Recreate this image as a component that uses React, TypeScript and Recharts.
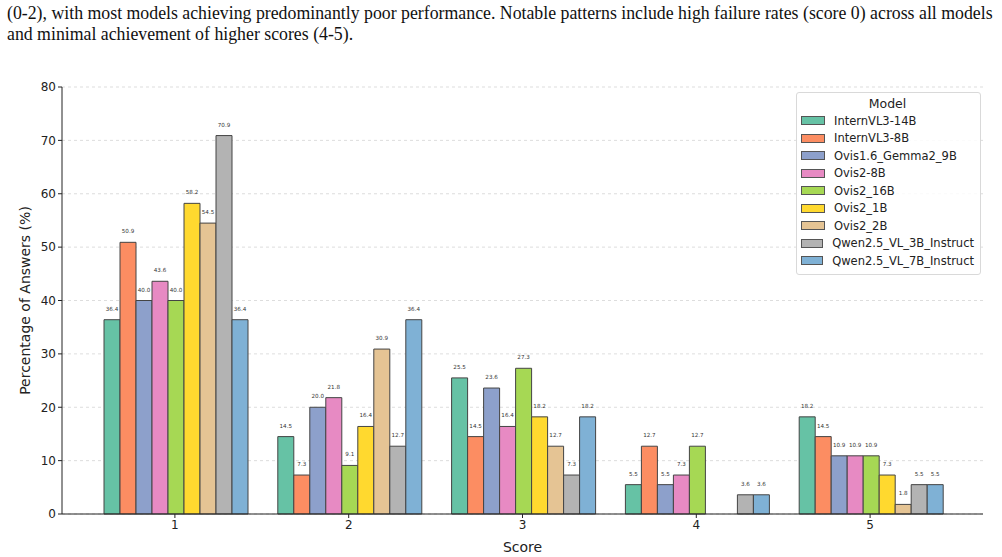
import React from "react";
import {
  BarChart,
  Bar,
  XAxis,
  YAxis,
  CartesianGrid,
  LabelList,
  Label,
} from "recharts";

const scores = ["1", "2", "3", "4", "5"];

const models = [
  "InternVL3-14B",
  "InternVL3-8B",
  "Ovis1.6_Gemma2_9B",
  "Ovis2-8B",
  "Ovis2_16B",
  "Ovis2_1B",
  "Ovis2_2B",
  "Qwen2.5_VL_3B_Instruct",
  "Qwen2.5_VL_7B_Instruct",
];

const colors = [
  "#66c2a5",
  "#fc8d62",
  "#8da0cb",
  "#e78ac3",
  "#a6d854",
  "#ffd92f",
  "#e5c494",
  "#b3b3b3",
  "#7fb1d5",
];

// percentage of answers per score, one array per model
const internvl3_14b = [36.4, 14.5, 25.5, 5.5, 18.2];
const internvl3_8b = [50.9, 7.3, 14.5, 12.7, 14.5];
const ovis16_gemma2_9b = [40.0, 20.0, 23.6, 5.5, 10.9];
const ovis2_8b = [43.6, 21.8, 16.4, 7.3, 10.9];
const ovis2_16b = [40.0, 9.1, 27.3, 12.7, 10.9];
const ovis2_1b = [58.2, 16.4, 18.2, 0, 7.3];
const ovis2_2b = [54.5, 30.9, 12.7, 0, 1.8];
const qwen25_3b = [70.9, 12.7, 7.3, 3.6, 5.5];
const qwen25_7b = [36.4, 36.4, 18.2, 3.6, 5.5];

const seriesValues = [
  internvl3_14b,
  internvl3_8b,
  ovis16_gemma2_9b,
  ovis2_8b,
  ovis2_16b,
  ovis2_1b,
  ovis2_2b,
  qwen25_3b,
  qwen25_7b,
];

const yTicks = [0, 10, 20, 30, 40, 50, 60, 70, 80];

const rows = scores.map((score, i) => {
  const row: Record<string, string | number> = { score };
  models.forEach((m, j) => {
    row[m] = seriesValues[j][i];
  });
  return row;
});

const font = "'DejaVu Sans', sans-serif";

// small value text above each bar, skipped for empty bars
function ValueLabel(props: any) {
  const { x, y, width, value } = props;
  const v = Number(value);
  if (!(v > 0)) return null;
  return (
    <text
      x={Number(x) + Number(width) / 2}
      y={Number(y) - 9}
      textAnchor="middle"
      fill="#333333"
      fontSize={5.6}
      fontFamily={font}
    >
      {v.toFixed(1)}
    </text>
  );
}

function ModelLegend() {
  return (
    <div
      style={{
        position: "absolute",
        left: 796,
        top: 92,
        boxSizing: "border-box",
        width: 185,
        border: "1px solid #d9d9d9",
        borderRadius: 3,
        background: "rgba(255,255,255,0.85)",
        padding: "3px 6px 4px 4px",
        fontFamily: font,
        fontSize: 11.5,
        color: "#222",
      }}
    >
      <div style={{ textAlign: "center", fontSize: 12.5, marginBottom: 1 }}>Model</div>
      {models.map((m, i) => (
        <div key={m} style={{ display: "flex", alignItems: "center", height: 17.5 }}>
          <span
            style={{
              display: "inline-block",
              width: 22,
              height: 7,
              background: colors[i],
              border: "1px solid #555",
              marginRight: 9,
            }}
          />
          <span style={{ whiteSpace: "nowrap" }}>{m}</span>
        </div>
      ))}
    </div>
  );
}

export default function App() {
  return (
    <div
      style={{
        position: "absolute",
        left: 0,
        top: 0,
        width: 1002,
        height: 557,
        background: "#fff",
        overflow: "hidden",
      }}
    >
      <div
        style={{
          position: "absolute",
          left: 7,
          top: 3,
          fontFamily: "'Liberation Serif', serif",
          fontSize: 17.8,
          lineHeight: "21px",
          color: "#111",
          whiteSpace: "nowrap",
        }}
      >
        (0-2), with most models achieving predominantly poor performance. Notable patterns include high failure rates (score 0) across all models
        <br />
        and minimal achievement of higher scores (4-5).
      </div>
      <div style={{ position: "absolute", left: 0, top: 0 }}>
        <BarChart
          width={1002}
          height={557}
          data={rows}
          margin={{ top: 87, right: 19, bottom: 13, left: 12 }}
          barCategoryGap={16}
          barGap={0}
        >
          <CartesianGrid
            horizontal
            vertical={false}
            stroke="#d4d4d4"
            strokeDasharray="3 3"
            strokeWidth={0.8}
          />
          <XAxis
            dataKey="score"
            padding={{ left: 26, right: 26 }}
            height={30}
            stroke="#222"
            tickSize={4}
            tick={{ fill: "#222", fontSize: 12, fontFamily: font }}
          >
            <Label
              value="Score"
              position="insideBottom"
              offset={-8}
              style={{ fill: "#222", fontSize: 14, fontFamily: font }}
            />
          </XAxis>
          <XAxis xAxisId="top" dataKey="score" orientation="top" height={0} tick={false} tickLine={false} stroke="#222" />
          <YAxis
            domain={[0, 80]}
            ticks={yTicks}
            width={50}
            stroke="#222"
            tickSize={4}
            tick={{ fill: "#222", fontSize: 12, fontFamily: font }}
          >
            <Label
              value="Percentage of Answers (%)"
              angle={-90}
              position="insideLeft"
              offset={13}
              style={{ textAnchor: "middle", fill: "#222", fontSize: 14, fontFamily: font }}
            />
          </YAxis>
          <YAxis yAxisId="right" orientation="right" width={0} tick={false} tickLine={false} stroke="#222" />
          {models.map((m, i) => (
            <Bar
              key={m}
              dataKey={m}
              fill={colors[i]}
              stroke="#444"
              strokeWidth={1}
              isAnimationActive={false}
            >
              <LabelList dataKey={m} content={ValueLabel} />
            </Bar>
          ))}
        </BarChart>
      </div>
      <ModelLegend />
    </div>
  );
}
